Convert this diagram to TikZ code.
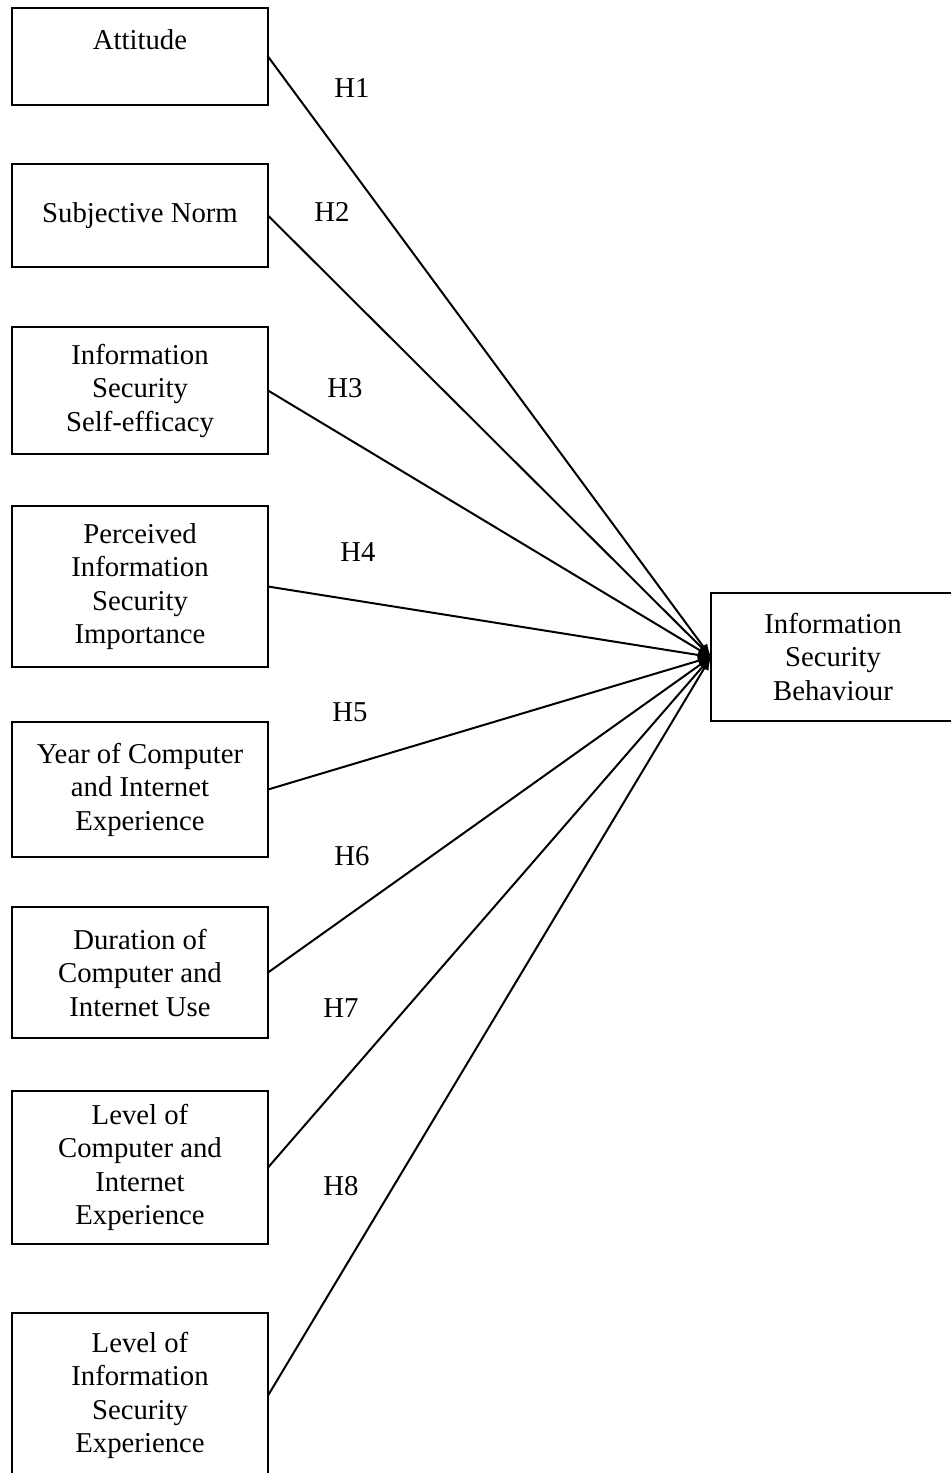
\documentclass[tikz,border=0pt]{standalone}
\usepackage{fontspec}
\setmainfont{Liberation Serif}
\usetikzlibrary{positioning}

\begin{document}
\begin{tikzpicture}[
            x=0.4pt, y=-0.4pt,
            node distance=22pt and 40pt,
            every node/.style={font=\fontsize{11.5}{13.4}\selectfont},
            box/.style={draw, thick, align=center, minimum width=102.4pt, inner sep=2pt, outer sep=0pt},
            link/.style={-latex, thick}
        ]

            \useasboundingbox (0,0) rectangle (951,1473);

            \node[box, minimum height=38.8pt] (att) at (140,56.5) {Attitude\\ \mbox{}};
            \node[box, minimum height=41.2pt, below=23.6pt of att] (norm) {Subjective Norm};
            \node[box, minimum height=50.8pt, below=24pt of norm] (self) {Information\\Security\\Self-efficacy};
            \node[box, minimum height=64.4pt, below=20.8pt of self] (imp) {Perceived\\Information\\Security\\Importance};
            \node[box, minimum height=54pt, below=of imp] (years) {Year of Computer\\and Internet\\Experience};
            \node[box, minimum height=52.4pt, below=20pt of years] (dur) {Duration of\\Computer and\\Internet Use};
            \node[box, minimum height=61.2pt, below=21.2pt of dur] (lvlci) {Level of\\Computer and\\Internet\\Experience};
            \node[box, minimum height=66pt, below=27.6pt of lvlci] (lvlis) {Level of\\Information\\Security\\Experience};

            \node[box, minimum width=97.6pt, minimum height=51.2pt] (beh) at (833,657) {Information\\Security\\Behaviour};

            \node (h1) at (352,88) {H1};
            \node (h2) at (332,212) {H2};
            \node (h3) at (345,388) {H3};
            \node (h4) at (358,552) {H4};
            \node (h5) at (350,712) {H5};
            \node (h6) at (352,856) {H6};
            \node (h7) at (341,1008) {H7};
            \node (h8) at (341,1186) {H8};

            \draw[link] (att.east)   -- (beh.west);
            \draw[link] (norm.east)  -- (beh.west);
            \draw[link] (self.east)  -- (beh.west);
            \draw[link] (imp.east)   -- (beh.west);
            \draw[link] (years.east) -- (beh.west);
            \draw[link] (dur.east)   -- (beh.west);
            \draw[link] (lvlci.east) -- (beh.west);
            \draw[link] (lvlis.east) -- (beh.west);

        \end{tikzpicture}
\end{document}
